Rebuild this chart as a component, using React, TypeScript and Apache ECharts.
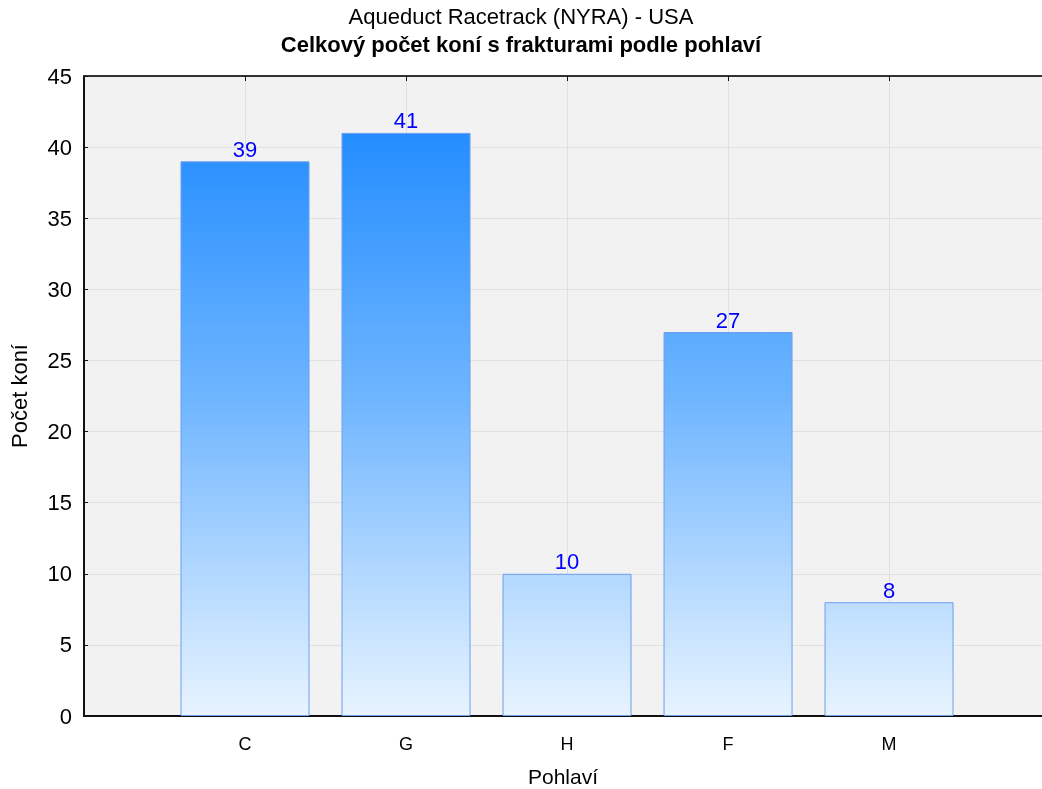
import React, { useEffect, useRef } from "react";
import * as echarts from "echarts";

const categories = ["C", "G", "H", "F", "M"];
const values = [39, 41, 10, 27, 8];
const yTicks = [0, 5, 10, 15, 20, 25, 30, 35, 40, 45];
const titleText = "Aqueduct Racetrack (NYRA) - USA";
const subtitleText = "Celkový počet koní s frakturami podle pohlaví";
const xName = "Pohlaví";
const yName = "Počet koní";

export default function App() {
  const ref = useRef<HTMLDivElement>(null);
  useEffect(() => {
    if (!ref.current) return;
    const chart = echarts.init(ref.current, null, { renderer: "svg" });
    const font = "'Liberation Sans', Arial, sans-serif";
    const data = values.map((v, i) => [i + 1, v]);
    const catFormatter = (v: number) => {
      const i = Math.round(v);
      return Math.abs(v - i) < 1e-6 && i >= 1 && i <= categories.length ? categories[i - 1] : "";
    };
    chart.setOption({
      animation: false,
      textStyle: { fontFamily: font },
      title: {
        text: titleText,
        subtext: subtitleText,
        left: "center",
        top: 0,
        itemGap: 6,
        textStyle: { fontFamily: font, fontSize: 22, fontWeight: "normal", color: "#000" },
        subtextStyle: { fontFamily: font, fontSize: 22, fontWeight: "bold", color: "#000" },
      },
      grid: {
        left: 84, right: 0, top: 76, bottom: 73,
        containLabel: false,
        outerBoundsMode: "none",
        show: true, backgroundColor: "#f2f2f2", borderWidth: 0,
      },
      xAxis: [
        {
          type: "value",
          min: 0,
          max: 5.95,
          interval: 1,
          name: xName,
          nameLocation: "middle",
          nameGap: 50,
          nameTextStyle: { fontFamily: font, fontSize: 21, lineHeight: 21, color: "#000" },
          axisLine: { show: true, onZero: false, lineStyle: { color: "#111", width: 2 } },
          axisTick: { show: true, inside: true, length: 5, lineStyle: { color: "#111" } },
          axisLabel: { fontFamily: font, fontSize: 18, color: "#000", margin: 19, formatter: catFormatter },
          splitLine: { show: true, lineStyle: { color: "#e0e0e0", width: 1 } },
        },
        {
          type: "value",
          position: "top",
          min: 0,
          max: 5.95,
          interval: 1,
          axisLine: { show: true, onZero: false, lineStyle: { color: "#333", width: 2 } },
          axisTick: { show: true, inside: true, length: 5, lineStyle: { color: "#111" } },
          axisLabel: { show: false },
          splitLine: { show: false },
        },
      ],
      yAxis: {
        type: "value",
        min: yTicks[0],
        max: yTicks[yTicks.length - 1],
        interval: yTicks[1] - yTicks[0],
        name: yName,
        nameLocation: "middle",
        nameGap: 54,
        nameTextStyle: { fontFamily: font, fontSize: 22, color: "#000" },
        axisLine: { show: true, lineStyle: { color: "#111", width: 2 } },
        axisTick: { show: true, inside: true, length: 4, lineStyle: { color: "#111" } },
        axisLabel: { fontFamily: font, fontSize: 22, color: "#000", margin: 12 },
        splitLine: { show: true, lineStyle: { color: "#e0e0e0", width: 1 } },
      },
      series: [
        {
          type: "bar",
          data,
          barWidth: 129,
          itemStyle: {
            color: new echarts.graphic.LinearGradient(0, 76, 0, 716, [
              { offset: 0, color: "#1485ff" },
              { offset: 0.5, color: "#6eb5ff" },
              { offset: 1, color: "#e8f4ff" },
            ], true),
            borderColor: "#6d9ef0",
            borderWidth: 1,
          },
          label: {
            show: true,
            position: "top",
            distance: 1,
            fontFamily: font,
            fontSize: 22,
            color: "#0000ff",
            formatter: (p: any) => String(p.value[1]),
          },
        },
      ],
    });
    return () => chart.dispose();
  }, []);
  return <div ref={ref} style={{ width: 1042, height: 789, position: "fixed", left: 0, top: 0 }} />;
}
